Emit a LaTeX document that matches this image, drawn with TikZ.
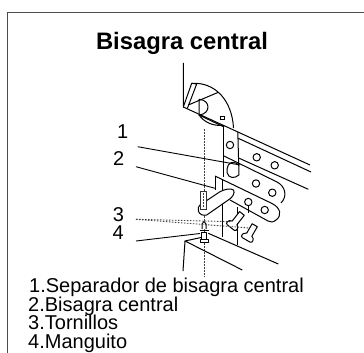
\documentclass[tikz,border=0pt]{standalone}
\usepackage{fontspec}
\setmainfont{Liberation Sans}
\tikzset{
  part/.style={line width=1pt,line join=round},
  leader/.style={line width=0.9pt},
  dotline/.style={line width=0.9pt,dash pattern=on 1.5pt off 1.5pt,draw=black!75},
  lbl/.style={inner sep=0pt,anchor=base west,font=\fontsize{20}{20}\selectfont},
  ttl/.style={inner sep=0pt,anchor=base,font=\fontsize{23.8}{24}\selectfont\bfseries}
}
\begin{document}
\begin{tikzpicture}[x=1pt,y=-1pt]
\useasboundingbox (0,0) rectangle (364,353);

\draw[line width=1.2pt,draw=black!70] (7.5,353) -- (7.5,12.7) -- (364,12.7);

\node[ttl](title) at (182,50) {Bisagra central};

% center line
\coordinate(ct) at (204,129);
\coordinate(cb) at (204,277);
\draw[dotline] (ct) -- (cb);

% hinge cap
\draw[part] (183.3,63) -- (183.3,107) -- (191.7,83.3) -- (196.7,84) -- (187.3,108.5);
\draw[part] (191.7,83.3) .. controls (215,82) and (232,100) .. (233.5,128);
\draw[part] (188.3,105) -- (218.3,92.3);
\draw[part] (199,99.3) .. controls (211,100) and (211,114) .. (199,115) -- cycle;
\draw[part] (199,115) .. controls (204,122) and (212,126) .. (223.3,125.5);
\draw[part] (199,115) -- (224,127);
\draw[line width=0.7pt] (220.7,116) rectangle (224,119.3);

% long rails
\draw[part] (183.3,107) -- (310,165);
\draw[part] (238.3,138.3) -- (311,172);
\draw[part] (239.3,158.3) -- (308.3,189.3);

% upper plate
\draw[part] (223.3,125.5) -- (223.3,177);
\draw[part] (237.8,132) -- (239,175);
\draw[part] (228.3,165) .. controls (225.5,170) and (227,177) .. (232,177.5) .. controls (234,177.5) and (237,177) .. (239,175);
\draw[part] (228.3,165) .. controls (231,161) and (235,162) .. (239,165);
\draw[part] (230,145) circle (3.7);
\draw[part] (256.7,157.3) circle (3.7);
\draw[part] (274.7,165.3) circle (3.7);

% lower plates
\draw[part] (224,156) -- (277,182) .. controls (285,186) and (288,196) .. (281,203);
\draw[part] (256,183.5) circle (3.7);
\draw[part] (272.3,192.7) circle (3.7);
\draw[part] (215,176) -- (215,190);
\draw[part] (215,176) -- (272,203.5) .. controls (281,208) and (282,216) .. (276,220) .. controls (273,222.5) and (271,222.5) .. (268,221) -- (230,200);
\draw[part] (248.3,202) circle (3.7);
\draw[part] (248.3,205.7) -- (248.3,212.5);
\draw[part] (264.7,210) circle (3.7);
\draw[part] (222.5,180) -- (222.5,237);
\draw[part] (237,207) -- (237,245);

% bracket arm
\draw[part,fill=white] (200,205) -- (220,191.7) .. controls (225,189) and (231,188) .. (233.5,190) .. controls (235.5,193) and (232,198) .. (228.3,200) -- (206.7,215) .. controls (203,216) and (199.5,214.5) .. (198.3,211) .. controls (197.8,208) and (198.5,206) .. (200,205) -- cycle;
\draw[line width=0.8pt,fill=white,draw=black!80] (200.7,191.7) rectangle (206.7,209.3);
\draw[dotline] (203.7,193) -- (203.7,208);

% screws
\draw[part,fill=white,rotate around={-38:(240.7,215)}] (237.7,213) -- (237.7,225) .. controls (233.5,226) and (233.5,231) .. (236,231) -- (245,231) .. controls (247.5,231) and (247.5,226) .. (243.7,225) -- (243.7,213) -- cycle;
\draw[part,fill=white,rotate around={-30:(254,226.5)}] (251,225) -- (251,236) .. controls (247,237) and (247,242) .. (249.5,242) -- (258.5,242) .. controls (261,242) and (261,237) .. (257,236) -- (257,225) -- cycle;

% bottom edges
\draw[part] (208.3,233.3) -- (278.3,264);
\draw[part] (201,237.5) -- (185,241) -- (242.3,270);
\draw[part] (185,241) -- (183,271);

% bolt and sleeve
\draw[part,fill=white] (202,229) -- (202,224) -- (204,221.5) -- (206,224) -- (206,229);
\draw[part,fill=white] (201.5,232) rectangle (206.5,239.5);
\draw[line width=1.6pt] (199.5,230.5) -- (208.5,230.5);
\draw[part,fill=white] (200,239.5) rectangle (208.5,242.8);

% numbers
\node[lbl](n1) at (117,138) {1};
\node[lbl](n2) at (112.8,165) {2};
\node[lbl](n3) at (112.6,221) {3};
\node[lbl](n4) at (112.4,239) {4};

% leaders
\coordinate(a1) at (137.7,146.7);
\coordinate(b1) at (240,165);
\coordinate(a2) at (136,166.7);
\coordinate(b2) at (215,188.3);
\coordinate(a3) at (136,219.3);
\coordinate(b3) at (232,221.7);
\coordinate(c3) at (249,228);
\coordinate(a4) at (136,241);
\coordinate(b4) at (200,233.5);
\draw[leader] (a1) -- (b1);
\draw[leader] (a2) -- (b2);
\draw[dotline] (a3) -- (b3);
\draw[dotline] (a3) -- (c3);
\draw[leader] (a4) -- (b4);

% list
\node[lbl](l1) at (29,292.7) {1.Separador de bisagra central};
\node[lbl](l2) at (28,311.7) {2.Bisagra central};
\node[lbl](l3) at (28,329.3) {3.Tornillos};
\node[lbl](l4) at (28,348.3) {4.Manguito};

\end{tikzpicture}
\end{document}
